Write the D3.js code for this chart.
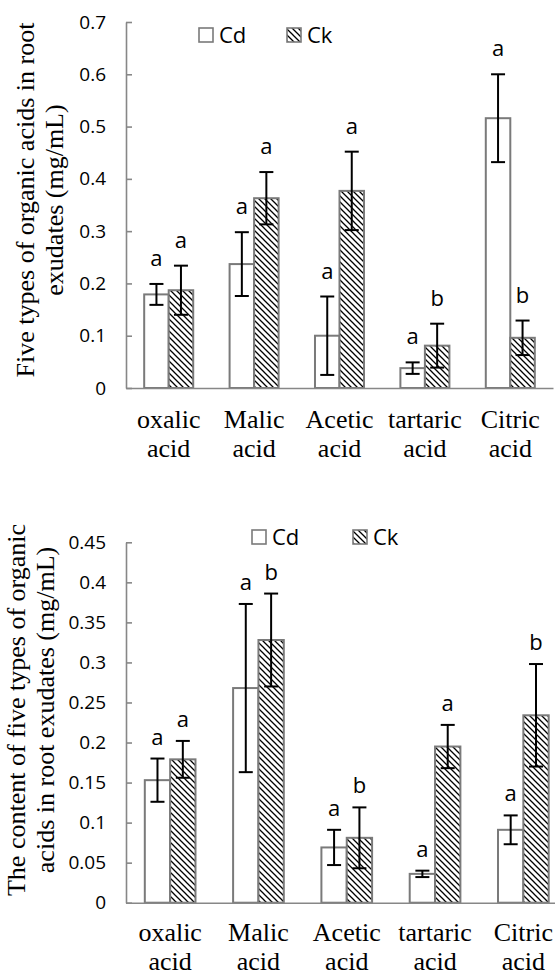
<!DOCTYPE html>
<html>
<head>
<meta charset="utf-8">
<script src="https://cdn.jsdelivr.net/npm/d3@7"></script>
<style>
  body { margin: 0; background: #fff; }
  svg { display: block; }
</style>
</head>
<body>
<div id="chart"></div>
<script>
// categories (two-line labels as drawn under the axis)
const acids = [["oxalic", "acid"], ["Malic", "acid"], ["Acetic", "acid"], ["tartaric", "acid"], ["Citric", "acid"]];
const seriesNames = ["Cd", "Ck"];

// upper panel
const upperCd = [0.179, 0.237, 0.100, 0.038, 0.516];
const upperCdErr = [0.020, 0.061, 0.075, 0.011, 0.084];
const upperCk = [0.187, 0.363, 0.377, 0.081, 0.096];
const upperCkErr = [0.047, 0.050, 0.075, 0.042, 0.033];
const upperCdLetters = ["a", "a", "a", "a", "a"];
const upperCkLetters = ["a", "a", "a", "b", "b"];
const upperTicks = [0, 0.1, 0.2, 0.3, 0.4, 0.5, 0.6, 0.7];
const upperTitle = ["Five types of organic acids in root", "exudates (mg/mL)"];

// lower panel
const lowerCd = [0.153, 0.268, 0.069, 0.036, 0.091];
const lowerCdErr = [0.027, 0.105, 0.022, 0.004, 0.018];
const lowerCk = [0.179, 0.328, 0.081, 0.195, 0.234];
const lowerCkErr = [0.023, 0.058, 0.038, 0.027, 0.064];
const lowerCdLetters = ["a", "a", "a", "a", "a"];
const lowerCkLetters = ["a", "b", "b", "a", "b"];
const lowerTicks = [0, 0.05, 0.1, 0.15, 0.2, 0.25, 0.3, 0.35, 0.4, 0.45];
const lowerTitle = ["The content of five types of organic", "acids in root exudates (mg/mL)"];

const width = 555, height = 976;
const axisColor = "#878787";
const barStroke = "#7a7a7a";
const sansFont = "'Open Sans', sans-serif";
const serifFont = "'Liberation Serif', 'Times New Roman', serif";

const svg = d3.select("#chart").append("svg")
  .attr("width", width)
  .attr("height", height);

// downward diagonal hatch like excel's pattern fill
const defs = svg.append("defs");
const hatch = defs.append("pattern")
  .attr("id", "hatch")
  .attr("patternUnits", "userSpaceOnUse")
  .attr("width", 6)
  .attr("height", 6);
hatch.append("rect").attr("width", 6).attr("height", 6).attr("fill", "#fff");
hatch.append("path")
  .attr("d", "M0,0L6,6M-1,5L1,7M5,-1L7,1")
  .attr("stroke", "#000")
  .attr("stroke-width", 1.3);

const fmt = d => d === 0 ? "0" : String(+d.toFixed(2));

function drawPanel(cfg) {
  const g = svg.append("g");

  const y = d3.scaleLinear().domain(cfg.yDomain).range([cfg.bottom, cfg.top]);
  const x = d3.scaleBand()
    .domain(acids.map(d => d[0]))
    .range([cfg.left, cfg.right])
    .paddingInner(0.426)
    .paddingOuter(0.213);
  const xs = d3.scaleBand().domain(seriesNames).range([0, x.bandwidth()]);

  const rows = acids.map((a, i) => [
    { cat: a[0], s: "Cd", v: cfg.cd[i], e: cfg.cdErr[i], l: cfg.cdLetters[i] },
    { cat: a[0], s: "Ck", v: cfg.ck[i], e: cfg.ckErr[i], l: cfg.ckLetters[i] }
  ]).flat();

  // bars
  g.selectAll("rect.bar")
    .data(rows)
    .enter().append("rect")
      .attr("class", "bar")
      .attr("x", d => x(d.cat) + xs(d.s))
      .attr("y", d => y(d.v))
      .attr("width", xs.bandwidth())
      .attr("height", d => y(0) - y(d.v))
      .attr("fill", d => d.s === "Cd" ? "#fff" : "url(#hatch)")
      .attr("stroke", barStroke)
      .attr("stroke-width", 2);

  // y axis, ticks pointing inward
  g.append("g")
    .attr("transform", `translate(${cfg.left},0)`)
    .call(d3.axisLeft(y).tickValues(cfg.ticks).tickFormat(fmt)
      .tickSizeInner(-6).tickSizeOuter(0).tickPadding(20))
    .call(a => a.select(".domain").attr("stroke", axisColor).attr("stroke-width", 1.6))
    .call(a => a.selectAll(".tick line").attr("stroke", axisColor).attr("stroke-width", 1.6))
    .call(a => a.selectAll(".tick text")
      .attr("fill", "#000")
      .style("font-family", sansFont)
      .style("font-size", "19px"));

  // x axis line + two-line labels
  const xAxis = g.append("g")
    .attr("transform", `translate(0,${y(0)})`)
    .call(d3.axisBottom(x).tickSize(0).tickPadding(0));
  xAxis.select(".domain").attr("stroke", axisColor).attr("stroke-width", 1.6);
  xAxis.selectAll(".tick text")
    .text(null)
    .attr("y", 0)
    .attr("dy", null)
    .attr("fill", "#000")
    .style("font-family", serifFont)
    .style("font-size", "26px")
    .each(function(d) {
      const lines = acids.find(a => a[0] === d);
      const t = d3.select(this);
      lines.forEach((ln, k) => {
        t.append("tspan").attr("x", 0).attr("y", cfg.labelY + k * 29).text(ln);
      });
    });

  // error bars
  const eb = g.selectAll("g.err")
    .data(rows)
    .enter().append("g")
      .attr("class", "err")
      .attr("transform", d => `translate(${x(d.cat) + xs(d.s) + xs.bandwidth() / 2},0)`);
  eb.append("line")
    .attr("y1", d => y(d.v + d.e)).attr("y2", d => y(d.v - d.e));
  eb.append("line")
    .attr("x1", -7).attr("x2", 7)
    .attr("y1", d => y(d.v + d.e)).attr("y2", d => y(d.v + d.e));
  eb.append("line")
    .attr("x1", -7).attr("x2", 7)
    .attr("y1", d => y(d.v - d.e)).attr("y2", d => y(d.v - d.e));
  eb.selectAll("line").attr("stroke", "#000").attr("stroke-width", 2);

  // significance letters
  g.selectAll("text.letter")
    .data(rows)
    .enter().append("text")
      .attr("class", "letter")
      .attr("x", d => x(d.cat) + xs(d.s) + xs.bandwidth() / 2)
      .attr("y", d => y(d.v + d.e) - cfg.letterGap)
      .attr("text-anchor", "middle")
      .style("font-family", sansFont)
      .style("font-size", "22px")
      .text(d => d.l);

  // y title, two rotated lines
  const title = g.append("text")
    .attr("transform", `translate(${cfg.titleX},${cfg.titleY}) rotate(-90)`)
    .attr("text-anchor", "middle")
    .style("font-family", serifFont)
    .style("font-size", "26px");
  cfg.title.forEach((ln, k) => {
    title.append("tspan").attr("x", 0).attr("y", k * 29).text(ln);
  });

  // legend
  const leg = g.selectAll("g.leg")
    .data(seriesNames)
    .enter().append("g")
      .attr("class", "leg")
      .attr("transform", (d, i) => `translate(${cfg.legendX + i * cfg.legendStep},${cfg.legendY})`);
  leg.append("rect")
    .attr("x", 0).attr("y", -7)
    .attr("width", 14).attr("height", 14)
    .attr("fill", d => d === "Cd" ? "#fff" : "url(#hatch)")
    .attr("stroke", barStroke)
    .attr("stroke-width", 1.6);
  leg.append("text")
    .attr("x", 20).attr("y", 0).attr("dy", "0.36em")
    .style("font-family", sansFont)
    .style("font-size", "22px")
    .text(d => d);
}

drawPanel({
  cd: upperCd, cdErr: upperCdErr, ck: upperCk, ckErr: upperCkErr,
  cdLetters: upperCdLetters, ckLetters: upperCkLetters,
  ticks: upperTicks, yDomain: [0, 0.7], title: upperTitle,
  top: 22, bottom: 388, left: 126, right: 553,
  labelY: 40, letterGap: 18,
  titleX: 34, titleY: 200,
  legendX: 199, legendY: 35, legendStep: 88
});

drawPanel({
  cd: lowerCd, cdErr: lowerCdErr, ck: lowerCk, ckErr: lowerCkErr,
  cdLetters: lowerCdLetters, ckLetters: lowerCkLetters,
  ticks: lowerTicks, yDomain: [0, 0.45], title: lowerTitle,
  top: 542.3, bottom: 902.7, left: 126, right: 567.5,
  labelY: 38, letterGap: 14,
  titleX: 25, titleY: 710,
  legendX: 252, legendY: 537, legendStep: 101
});
</script>
</body>
</html>
